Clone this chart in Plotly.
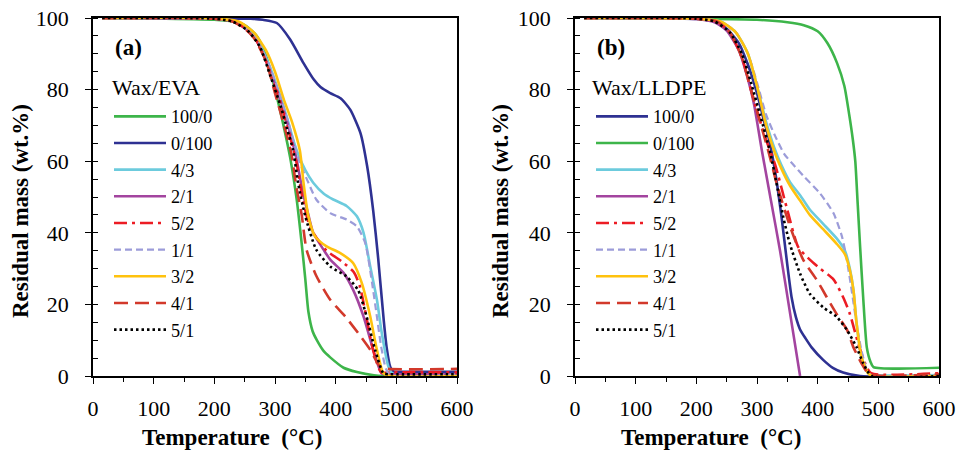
import plotly.graph_objects as go

# ---------------- data: panel (a) Wax/EVA ----------------
labels = ["100/0", "0/100", "4/3", "2/1", "5/2", "1/1", "3/2", "4/1", "5/1"]
x_ticks = [0, 100, 200, 300, 400, 500, 600]
y_ticks = [0, 20, 40, 60, 80, 100]

a_100_0_T = [15, 100, 200, 230, 250, 270, 286, 303, 314, 325, 336, 344, 350, 355, 362, 369, 380, 391, 413, 435, 463, 480, 600]
a_100_0_M = [100, 99.9, 99.5, 99, 98, 95, 89, 78, 70, 61, 49, 37, 27, 18, 12.5, 10, 7, 5.2, 2.3, 1.1, 0.2, 0, 0]
a_0_100_T = [15, 200, 260, 280, 303, 325, 347, 364, 375, 391, 408, 424, 441, 452, 462, 470, 479, 484, 490, 495, 510, 600]
a_0_100_M = [100, 99.9, 99.8, 99.5, 98.6, 94, 87.4, 82.8, 80.7, 79, 77.6, 74.4, 67.8, 58.5, 46, 33, 16, 8, 2.5, 1.3, 1.2, 1.2]
a_4_3_T = [15, 200, 230, 250, 270, 290, 305, 320, 330, 338, 350, 363, 380, 396, 418, 435, 446, 457, 468, 476, 487, 495, 600]
a_4_3_M = [100, 99.8, 99.2, 97.5, 94, 87, 80, 72, 66, 62, 57.5, 54, 51, 49.3, 47.5, 44.6, 40, 30.6, 21.3, 12, 2.6, 0.5, 0.5]
a_2_1_T = [15, 200, 230, 250, 270, 290, 305, 320, 335, 345, 355, 363, 380, 391, 413, 429, 446, 462, 476, 490, 600]
a_2_1_M = [100, 99.8, 99.1, 97.2, 93.5, 86, 79, 71, 61, 52, 45, 40, 35.3, 32.5, 28.8, 24, 16.6, 7.3, 0.7, 0.5, 0.5]
a_5_2_T = [15, 200, 230, 250, 270, 290, 305, 320, 335, 345, 355, 363, 385, 410, 430, 440, 450, 462, 475, 490, 600]
a_5_2_M = [100, 99.8, 99.1, 97.2, 93.5, 86, 78.5, 70, 60, 50, 43, 40, 35, 32, 29, 25, 17, 7, 1, 1, 1]
a_1_1_T = [15, 200, 230, 250, 270, 290, 305, 320, 330, 340, 355, 368, 391, 418, 435, 449, 460, 468, 476, 488, 600]
a_1_1_M = [100, 99.8, 99.2, 97.5, 94, 87, 80, 72, 66, 60, 54, 49.3, 45.5, 43.7, 41.8, 37, 26, 16.6, 7.3, 0.5, 0.5]
a_3_2_T = [15, 200, 240, 265, 285, 300, 315, 328, 341, 347, 355, 366, 385, 407, 429, 443, 457, 468, 479, 490, 600]
a_3_2_M = [100, 99.9, 99, 96, 91, 85, 77, 71, 63, 54, 44.6, 39, 36.2, 34.4, 31.5, 26, 16.6, 7.3, 0.7, 0, 0]
a_4_1_T = [15, 200, 230, 250, 265, 285, 300, 315, 327, 335, 344, 352, 368, 391, 416, 437, 457, 473, 485, 600]
a_4_1_M = [100, 99.8, 99, 97, 94.5, 88, 79, 70, 62, 53, 45, 35.3, 28, 21.3, 16.6, 12, 7.3, 2.6, 2, 2]
a_5_1_T = [15, 200, 230, 255, 275, 292, 310, 320, 330, 338, 350, 368, 391, 418, 437, 451, 465, 479, 490, 600]
a_5_1_M = [100, 99.8, 99, 96.5, 92, 84, 75, 69, 63, 54, 44.6, 35.3, 30.6, 27.8, 24, 16.6, 7.3, 0.7, 0.5, 0.5]

# ---------------- data: panel (b) Wax/LLDPE ----------------
b_100_0_T = [15, 200, 230, 250, 270, 285, 300, 312, 320, 330, 340, 350, 357, 364, 371, 380, 390, 409, 425, 442, 470, 600]
b_100_0_M = [100, 99.7, 99, 97, 93, 87, 79, 71, 66, 57, 45, 31, 22, 16.5, 13, 10.5, 8, 4.5, 2.3, 1, 0, 0]
b_0_100_T = [15, 200, 300, 350, 377, 400, 416, 432, 444, 452, 458, 462, 466, 470, 475, 481, 487, 492, 600]
b_0_100_M = [100, 99.8, 99.5, 98.8, 98, 96.3, 93, 87.4, 81, 73, 66, 60, 48, 36, 22, 8, 4, 2.5, 2.3]
b_4_3_T = [15, 200, 240, 265, 285, 300, 315, 328, 340, 355, 371, 387, 409, 431, 445, 453, 459, 464, 472, 483, 490, 600]
b_4_3_M = [100, 99.8, 99, 96, 90, 81, 71, 64, 59, 54, 50.5, 46.5, 42.5, 38.5, 35, 30, 24, 15, 5.4, 0.8, 0.3, 0.3]
b_2_1_T = [15, 200, 230, 250, 270, 285, 295, 308, 323, 338, 355, 371]
b_2_1_M = [100, 99.7, 98.8, 96.5, 91, 83, 76, 63, 49, 35, 17, 0]
b_5_2_T = [15, 200, 235, 255, 275, 290, 300, 315, 330, 349, 368, 387, 404, 426, 442, 453, 467, 478, 488, 600]
b_5_2_M = [100, 99.8, 99, 96, 89, 80, 74, 66, 59, 47, 36, 32.5, 30, 27, 22, 17.4, 9, 3.6, 0.8, 0.8]
b_1_1_T = [15, 200, 240, 265, 285, 300, 315, 330, 345, 360, 376, 404, 426, 440, 448, 456, 464, 472, 481, 488, 600]
b_1_1_M = [100, 99.8, 99, 96, 90, 82, 73, 67, 62, 59, 56, 51, 45.5, 39, 32.5, 24, 14.7, 7.3, 1.7, 0.3, 0.3]
b_3_2_T = [15, 200, 240, 265, 285, 300, 315, 328, 340, 355, 371, 387, 409, 431, 445, 453, 459, 464, 472, 483, 490, 600]
b_3_2_M = [100, 99.8, 99, 96, 90, 81, 70, 63, 58, 53, 49, 45, 41, 37, 34, 29.6, 24, 15, 5.4, 0.8, 0, 0]
b_4_1_T = [15, 200, 235, 255, 275, 290, 305, 320, 332, 354, 376, 398, 415, 431, 448, 459, 472, 485, 600]
b_4_1_M = [100, 99.8, 99, 96, 89, 80, 71, 62, 54, 42, 32.5, 27, 22, 17.4, 13, 8, 3.6, 0.5, 0.5]
b_5_1_T = [15, 200, 230, 255, 275, 290, 305, 321, 332, 343, 354, 371, 387, 409, 431, 448, 464, 475, 489, 600]
b_5_1_M = [100, 99.8, 99, 96, 90, 82, 73, 63, 54, 44.6, 37, 28.6, 23, 19.2, 16.6, 12.9, 8.1, 3.6, 0, 0]

# ---------------- styles ----------------
GREEN, NAVY = "#3DB54A", "#2E3192"
styles = [
    dict(color=GREEN, dash="solid", width=2.6),     # 100/0 (a)
    dict(color=NAVY, dash="solid", width=2.6),      # 0/100 (a)
    dict(color="#6CCBDD", dash="solid", width=2.6),
    dict(color="#A3449F", dash="solid", width=2.6),
    dict(color="#EC1C24", dash="13px,5px,3px,5px", width=2.6),
    dict(color="#9C9CD9", dash="7px,4px", width=2.2),
    dict(color="#FFC20E", dash="solid", width=2.6),
    dict(color="#D2392B", dash="14px,7px", width=2.6),
    dict(color="#000000", dash="2.5px,3px", width=2.6),
]
styles_b = [dict(styles[1]), dict(styles[0])] + [dict(s) for s in styles[2:]]

a_series = [(a_100_0_T, a_100_0_M), (a_0_100_T, a_0_100_M), (a_4_3_T, a_4_3_M), (a_2_1_T, a_2_1_M),
            (a_5_2_T, a_5_2_M), (a_1_1_T, a_1_1_M), (a_3_2_T, a_3_2_M), (a_4_1_T, a_4_1_M), (a_5_1_T, a_5_1_M)]
b_series = [(b_100_0_T, b_100_0_M), (b_0_100_T, b_0_100_M), (b_4_3_T, b_4_3_M), (b_2_1_T, b_2_1_M),
            (b_5_2_T, b_5_2_M), (b_1_1_T, b_1_1_M), (b_3_2_T, b_3_2_M), (b_4_1_T, b_4_1_M), (b_5_1_T, b_5_1_M)]

FONT = "Liberation Serif"
fig = go.Figure()
for lab, (t, m), st in zip(labels, a_series, styles):
    fig.add_trace(go.Scatter(x=t, y=m, mode="lines", name=lab, line=dict(shape="spline", smoothing=0.6, **st),
                             xaxis="x", yaxis="y", legend="legend"))
for lab, (t, m), st in zip(labels, b_series, styles_b):
    fig.add_trace(go.Scatter(x=t, y=m, mode="lines", name=lab, line=dict(shape="spline", smoothing=0.6, **st),
                             xaxis="x2", yaxis="y2", legend="legend2"))

W, H = 959, 450
PL_A, PR_A, PL_B, PR_B = 93, 457, 575, 939
PT, PB = 18, 376

def xax(domain, anchor):
    return dict(domain=domain, anchor=anchor, range=[0, 600], tickvals=x_ticks, ticktext=[str(v) for v in x_ticks],
                showline=True, linecolor="black", linewidth=1.5, mirror=True, automargin=False,
                ticks="outside", ticklen=6, tickwidth=1.3, tickcolor="black",
                minor=dict(dtick=50, tick0=0, ticks="outside", ticklen=4, tickwidth=1.3, tickcolor="black"),
                showgrid=False, zeroline=False, ticklabelstandoff=6,
                tickfont=dict(family=FONT, size=22, color="black"))

def yax(anchor):
    return dict(domain=[0, 1], anchor=anchor, range=[0, 100], tickvals=y_ticks, ticktext=[str(v) for v in y_ticks],
                showline=True, linecolor="black", linewidth=1.5, mirror=True, automargin=False,
                ticks="outside", ticklen=6, tickwidth=1.3, tickcolor="black",
                minor=dict(dtick=5, tick0=0, ticks="inside", ticklen=5, tickwidth=1.3, tickcolor="black"),
                showgrid=False, zeroline=False, ticklabelstandoff=12,
                tickfont=dict(family=FONT, size=22, color="black"))

def inner_x(over, anchor):
    return dict(overlaying=over, anchor=anchor, side="bottom", range=[0, 600], tickvals=x_ticks,
                ticks="inside", ticklen=6, tickwidth=1.3, tickcolor="black", showticklabels=False,
                showline=False, showgrid=False, zeroline=False, automargin=False)

def inner_y(over, anchor):
    return dict(overlaying=over, anchor=anchor, side="left", range=[0, 100], tickvals=y_ticks,
                ticks="inside", ticklen=6, tickwidth=1.3, tickcolor="black", showticklabels=False,
                showline=False, showgrid=False, zeroline=False, automargin=False)

def leg(xpx, top_px):
    return dict(x=xpx / W, y=(PB - top_px) / (PB - PT), xanchor="left", yanchor="top",
                bgcolor="rgba(0,0,0,0)", borderwidth=0, tracegroupgap=0, itemwidth=52,
                font=dict(family=FONT, size=18.2, color="black"))

fig.update_layout(
    template="none",
    width=W, height=H, margin=dict(l=0, r=0, t=PT, b=H - PB, autoexpand=False),
    paper_bgcolor="white", plot_bgcolor="white", showlegend=True,
    xaxis=xax([PL_A / W, PR_A / W], "y"), yaxis=yax("x"),
    xaxis2=xax([PL_B / W, PR_B / W], "y2"), yaxis2=yax("x2"),
    xaxis3=inner_x("x", "y"), yaxis3=inner_y("y", "x"),
    xaxis4=inner_x("x2", "y2"), yaxis4=inner_y("y2", "x2"),
    legend=leg(109, 98), legend2=leg(591, 98),
)

def py(p):
    return (PB - p) / (PB - PT)

ann = []
for xl, txt in [(113, "(a)"), (595, "(b)")]:
    ann.append(dict(text=f"<b>{txt}</b>", x=xl / W, y=py(47), xref="paper", yref="paper", xanchor="left", yanchor="middle",
                    showarrow=False, font=dict(family=FONT, size=23, color="black")))
for xl, txt in [(110, "Wax/EVA"), (590, "Wax/LLDPE")]:
    ann.append(dict(text=txt, x=xl / W, y=py(88), xref="paper", yref="paper", xanchor="left", yanchor="middle",
                    showarrow=False, font=dict(family=FONT, size=22, color="black")))
for xc in [232, 711]:
    ann.append(dict(text="<b>Temperature  (°C)</b>", x=xc / W, y=py(437), xref="paper", yref="paper",
                    xanchor="center", yanchor="middle", showarrow=False, font=dict(family=FONT, size=23, color="black")))
for xc in [20, 500]:
    ann.append(dict(text="<b>Residual mass (wt.%)</b>", x=xc / W, y=py(211), xref="paper", yref="paper",
                    xanchor="center", yanchor="middle", textangle=-90, showarrow=False,
                    font=dict(family=FONT, size=23, color="black")))
fig.update_layout(annotations=ann)

fig.write_html("out.html", config={"displayModeBar": False},
               post_script="document.body.style.margin='0px';document.body.style.overflow='hidden';")
